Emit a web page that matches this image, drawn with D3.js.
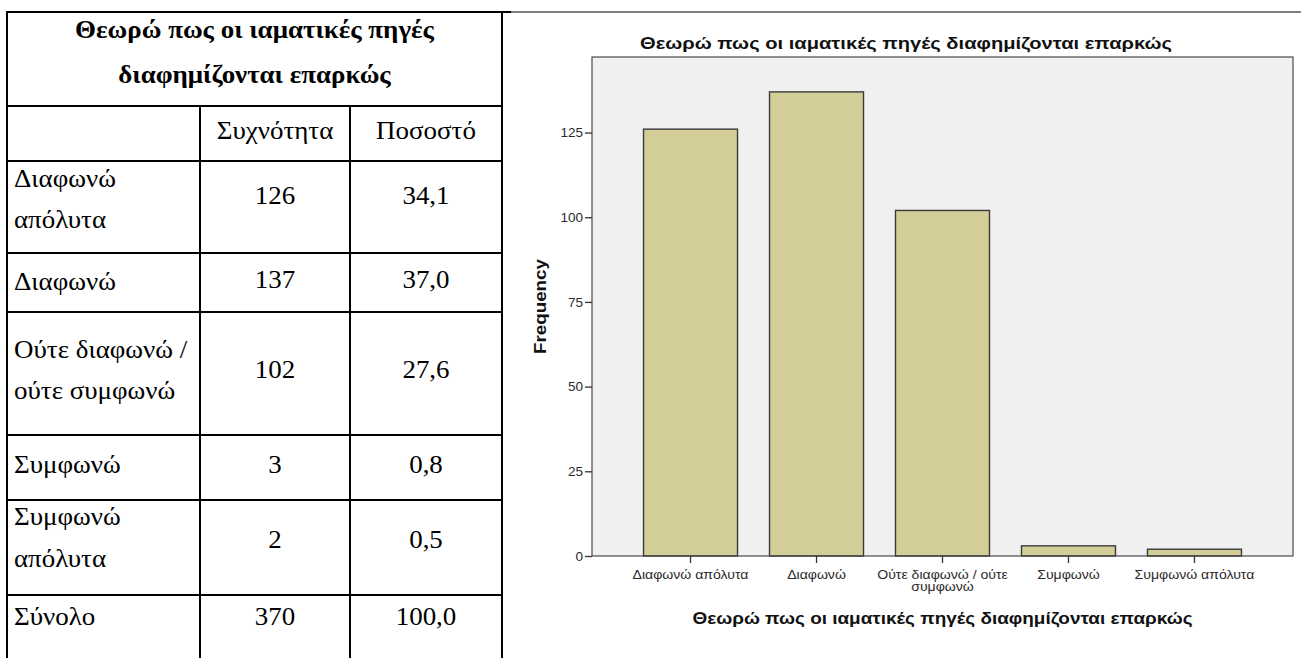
<!DOCTYPE html>
<html><head><meta charset="utf-8">
<script src="https://cdn.jsdelivr.net/npm/d3@7/dist/d3.min.js"></script>
<style>body{margin:0;background:#fff}svg{display:block}</style>
</head><body><svg id="c" width="1301" height="658"></svg>
<script>
// ---------- data ----------
const categories = ["Διαφωνώ απόλυτα", "Διαφωνώ", "Ούτε διαφωνώ / ούτε συμφωνώ", "Συμφωνώ", "Συμφωνώ απόλυτα"];
const frequencies = [126, 137, 102, 3, 2];
const percents = ["34,1", "37,0", "27,6", "0,8", "0,5"];
const tableRowLabels = [["Διαφωνώ", "απόλυτα"], ["Διαφωνώ"], ["Ούτε διαφωνώ /", "ούτε συμφωνώ"], ["Συμφωνώ"], ["Συμφωνώ", "απόλυτα"]];
const totalLabel = "Σύνολο";
const totalFrequency = "370";
const totalPercent = "100,0";
const tableTitleLines = ["Θεωρώ πως οι ιαματικές πηγές", "διαφημίζονται επαρκώς"];
const columnHeaders = ["Συχνότητα", "Ποσοστό"];
const chartTitle = "Θεωρώ πως οι ιαματικές πηγές διαφημίζονται επαρκώς";
const xAxisTitle = "Θεωρώ πως οι ιαματικές πηγές διαφημίζονται επαρκώς";
const yAxisTitle = "Frequency";
const yTicks = [0, 25, 50, 75, 100, 125];
const yMax = 147.3;

// ---------- table ----------
const svg = d3.select("#c");
const serif = "Liberation Serif, DejaVu Serif, serif";
const sans = "Liberation Sans, Arial, sans-serif";
const T = {left: 7, right: 502, c1: 200, c2: 350, top: 12, headEnd: 106, bottom: 658};
const rowEdges = [106, 161, 253, 312, 435, 500, 595, 658];
// per-row text baseline offsets (label lines, value) relative to row top
const rowTextOffsets = [
  {lines: [26, 67], val: 43},
  {lines: [37], val: 35},
  {lines: [46, 87], val: 66},
  {lines: [38], val: 38},
  {lines: [25, 67], val: 48},
  {lines: [30], val: 30}
];
const tg = svg.append("g").attr("class", "table");
const line = (x1, y1, x2, y2, w) => tg.append("line").attr("x1", x1).attr("y1", y1).attr("x2", x2).attr("y2", y2)
  .attr("stroke", "#000").attr("stroke-width", w);
line(T.left - 1, T.top, 511, T.top, 2);
line(511, T.top, 1301, T.top, 1);
line(T.left, T.top - 1, T.left, T.bottom, 2);
line(T.right, T.top - 1, T.right, T.bottom, 2);
line(T.c1, T.headEnd, T.c1, T.bottom, 2);
line(T.c2, T.headEnd, T.c2, T.bottom, 2);
rowEdges.slice(0, -1).forEach(y => line(T.left - 1, y, T.right + 1, y, 2));

const tText = (x, y, s, anchor, bold) => tg.append("text")
  .attr("transform", `translate(${x},${y}) scale(1.1,1)`).text(s)
  .attr("text-anchor", anchor).style("font-family", serif).attr("font-size", 24.5)
  .attr("font-weight", bold ? "bold" : "normal").attr("fill", "#000");
const cx0 = (T.left + T.right) / 2, cx1 = (T.c1 + T.c2) / 2, cx2 = (T.c2 + T.right) / 2;
tableTitleLines.forEach((s, i) => tText(cx0, 38 + i * 45, s, "middle", true));
tText(cx1, 139, columnHeaders[0], "middle");
tText(cx2, 139, columnHeaders[1], "middle");
const allRows = tableRowLabels.map((l, i) => ({lines: l, f: String(frequencies[i]), p: percents[i]}))
  .concat([{lines: [totalLabel], f: totalFrequency, p: totalPercent}]);
allRows.forEach((r, i) => {
  const top = rowEdges[i + 1], off = rowTextOffsets[i];
  r.lines.forEach((s, k) => tText(14, top + off.lines[k], s, "start"));
  tText(cx1, top + off.val, r.f, "middle");
  tText(cx2, top + off.val, r.p, "middle");
});

// ---------- chart ----------
const P = {l: 592, r: 1293, t: 57, b: 556};
const x = d3.scaleBand().domain(categories).range([P.l, P.r]).paddingInner(0.254).paddingOuter(0.409);
const y = d3.scaleLinear().domain([0, yMax]).range([P.b, P.t]);
const cg = svg.append("g").attr("class", "chart");

cg.append("rect").attr("x", P.l).attr("y", P.t).attr("width", P.r - P.l).attr("height", P.b - P.t)
  .attr("fill", "#f0f0f0").attr("stroke", "none");

cg.selectAll("rect.bar").data(categories).join("rect").attr("class", "bar")
  .attr("x", d => x(d)).attr("width", x.bandwidth())
  .attr("y", (d, i) => y(frequencies[i])).attr("height", (d, i) => y(0) - y(frequencies[i]))
  .attr("fill", "#d3ce97").attr("stroke", "#3a3a3a").attr("stroke-width", 1.4);

cg.append("rect").attr("x", P.l).attr("y", P.t).attr("width", P.r - P.l).attr("height", P.b - P.t)
  .attr("fill", "none").attr("stroke", "#4a4a4a").attr("stroke-width", 1.2);

const yAxis = cg.append("g").attr("transform", `translate(${P.l},0)`)
  .call(d3.axisLeft(y).tickValues(yTicks).tickSize(7).tickPadding(2).tickSizeOuter(0));
yAxis.select(".domain").remove();
yAxis.selectAll(".tick line").attr("stroke", "#333").attr("stroke-width", 1.3);
yAxis.selectAll(".tick text").style("font-family", sans).attr("font-size", 13.5).attr("fill", "#2a2a2a");

const xAxis = cg.append("g").attr("transform", `translate(0,${P.b})`)
  .call(d3.axisBottom(x).tickSize(7).tickSizeOuter(0).tickPadding(0));
xAxis.select(".domain").remove();
xAxis.selectAll(".tick line").attr("stroke", "#333").attr("stroke-width", 1.3);
xAxis.selectAll(".tick text").each(function(d) {
  const t = d3.select(this).text(null).style("font-family", sans).attr("font-size", 12.8)
    .attr("fill", "#2a2a2a").attr("dy", null).attr("y", 0).attr("transform", "scale(1.1,1)");
  const words = d.split(" "), maxW = x.step();
  let lines = [], cur = [];
  const probe = t.append("tspan");
  words.forEach(w => {
    const test = cur.concat([w]).join(" ");
    probe.text(test);
    if (probe.node().getComputedTextLength() > maxW && cur.length) { lines.push(cur.join(" ")); cur = [w]; }
    else cur.push(w);
  });
  lines.push(cur.join(" "));
  probe.remove();
  lines.forEach((s, k) => t.append("tspan").attr("x", 0).attr("y", 23 + k * 12).text(s));
});

cg.append("text").attr("x", 906).attr("y", 49).attr("text-anchor", "middle")
  .style("font-family", sans).attr("font-size", 16.5).attr("font-weight", "bold").attr("fill", "#111")
  .attr("textLength", 532).attr("lengthAdjust", "spacingAndGlyphs").text(chartTitle);
cg.append("text").attr("x", (P.l + P.r) / 2).attr("y", 624).attr("text-anchor", "middle")
  .style("font-family", sans).attr("font-size", 16).attr("font-weight", "bold").attr("fill", "#111")
  .attr("textLength", 500).attr("lengthAdjust", "spacingAndGlyphs").text(xAxisTitle);
cg.append("text").attr("transform", `translate(546,${(P.t + P.b) / 2}) rotate(-90)`).attr("text-anchor", "middle")
  .style("font-family", sans).attr("font-size", 16).attr("font-weight", "bold").attr("fill", "#111")
  .attr("textLength", 95).attr("lengthAdjust", "spacingAndGlyphs").text(yAxisTitle);
</script></body></html>
